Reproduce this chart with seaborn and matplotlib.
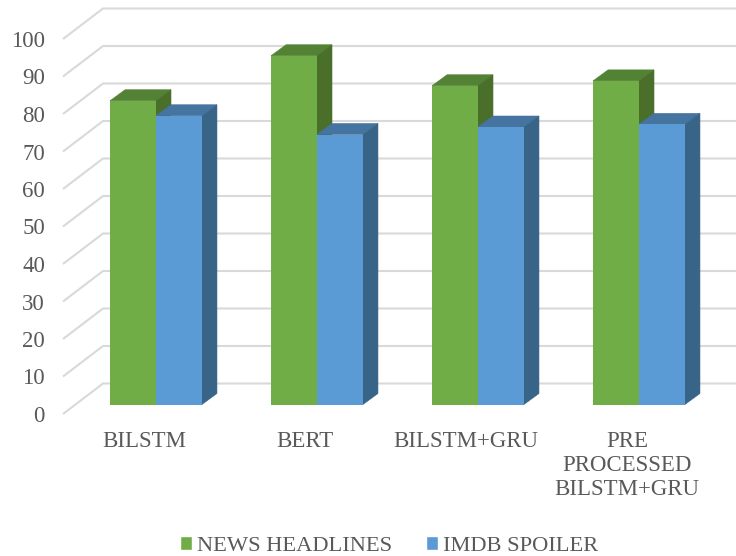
import pandas as pd
import seaborn as sns
import matplotlib.pyplot as plt
from matplotlib.patches import Polygon
from matplotlib.transforms import ScaledTranslation

# Values
models = ['BILSTM', 'BERT', 'BILSTM+GRU', 'PRE\nPROCESSED\nBILSTM+GRU']
news_headlines = [81, 93, 85, 86.3]
imdb_spoiler = [77, 72, 74, 74.7]
y_ticks = list(range(0, 101, 10))

W, H = 736, 556
GREEN = ['#70AD47', '#548235', '#4A6F2A']
BLUE = ['#5B9BD5', '#44749F', '#386488']
TEXT = '#595959'
GRID = '#D9D9D9'

sns.set_theme(style='white')
plt.rcParams['font.family'] = ['Liberation Serif', 'DejaVu Serif']

df = pd.DataFrame({
    'model': models * 2,
    'score': news_headlines + imdb_spoiler,
    'dataset': ['NEWS HEADLINES'] * 4 + ['IMDB SPOILER'] * 4,
})

fig = plt.figure(figsize=(W / 100, H / 100), dpi=100)
# bar plane in pixels: x 75.5..719.5, y 29.5..404.5
ax = fig.add_axes([75.5 / W, 1 - 404.5 / H, 644 / W, 375 / H])

sns.barplot(data=df, x='model', y='score', hue='dataset', width=0.571, gap=0,
            palette=[GREEN[0], BLUE[0]], linewidth=0, saturation=1, ax=ax, legend=False)
ax.set_xlim(-0.5, 3.5)
ax.set_ylim(0, 100)

px_x = 4 / 644   # one pixel in data units
px_y = 100 / 375

# floor and wall grid lines, front edge sits left of and below the bar plane
for v in y_ticks:
    xs = [-0.5 + (63 - 75.5) * px_x, -0.5 + (103 - 75.5) * px_x, 3.5 + 16.5 * px_x]
    base = v - 9.5 * px_y
    ys = [base, base + 30.5 * px_y, base + 30.5 * px_y]
    ax.plot(xs, ys, color=GRID, lw=1.5, clip_on=False, zorder=0.5,
            solid_capstyle='butt', solid_joinstyle='miter')

# fake depth for each bar, taken from the bar patches
dx, dy = 15 * px_x, 11 * px_y
for i, bar in enumerate(ax.patches):
    cols = GREEN if i < 4 else BLUE
    z = 2 + i % 4 + (0.5 if i >= 4 else 0)
    x0, w, h = bar.get_x(), bar.get_width(), bar.get_height()
    x1 = x0 + w
    top = Polygon([(x0, h), (x1, h), (x1 + dx, h + dy), (x0 + dx, h + dy)],
                  fc=cols[1], ec=cols[1], lw=0.4, zorder=z, clip_on=False)
    side = Polygon([(x1, 0), (x1 + dx, dy), (x1 + dx, h + dy), (x1, h)],
                   fc=cols[2], ec=cols[2], lw=0.4, zorder=z, clip_on=False)
    ax.add_patch(top)
    ax.add_patch(side)
    bar.set_zorder(z + 0.1)
    bar.set_clip_on(False)

sns.despine(ax=ax, left=True, bottom=True)
ax.set_xlabel('')
ax.set_ylabel('')
ax.set_yticks(y_ticks)
ax.tick_params(axis='y', length=0, pad=22, labelsize=16.5, labelcolor=TEXT)
ax.tick_params(axis='x', length=0, pad=19, labelsize=16.5, labelcolor=TEXT)
ax.patch.set_alpha(0)

# labels belong to the front edge, not the bar plane
shift_x = ScaledTranslation(-12 / 100, 0, fig.dpi_scale_trans)
shift_y = ScaledTranslation(0, -9.5 / 100, fig.dpi_scale_trans)
for lab in ax.get_xticklabels():
    lab.set_transform(lab.get_transform() + shift_x)
    lab.set_linespacing(1.19)
for lab in ax.get_yticklabels():
    lab.set_transform(lab.get_transform() + shift_y)

handles = [plt.Rectangle((0, 0), 1, 1, fc=GREEN[0]), plt.Rectangle((0, 0), 1, 1, fc=BLUE[0])]
fig.legend(handles, ['NEWS HEADLINES', 'IMDB SPOILER'], ncol=2, frameon=False,
           loc='lower center', bbox_to_anchor=(389 / W, 0.0), fontsize=16.2,
           labelcolor=TEXT, handlelength=0.55, handleheight=0.55, handletextpad=0.2,
           columnspacing=1.5, borderaxespad=0, borderpad=0)

plt.savefig('out.png', dpi=100)
